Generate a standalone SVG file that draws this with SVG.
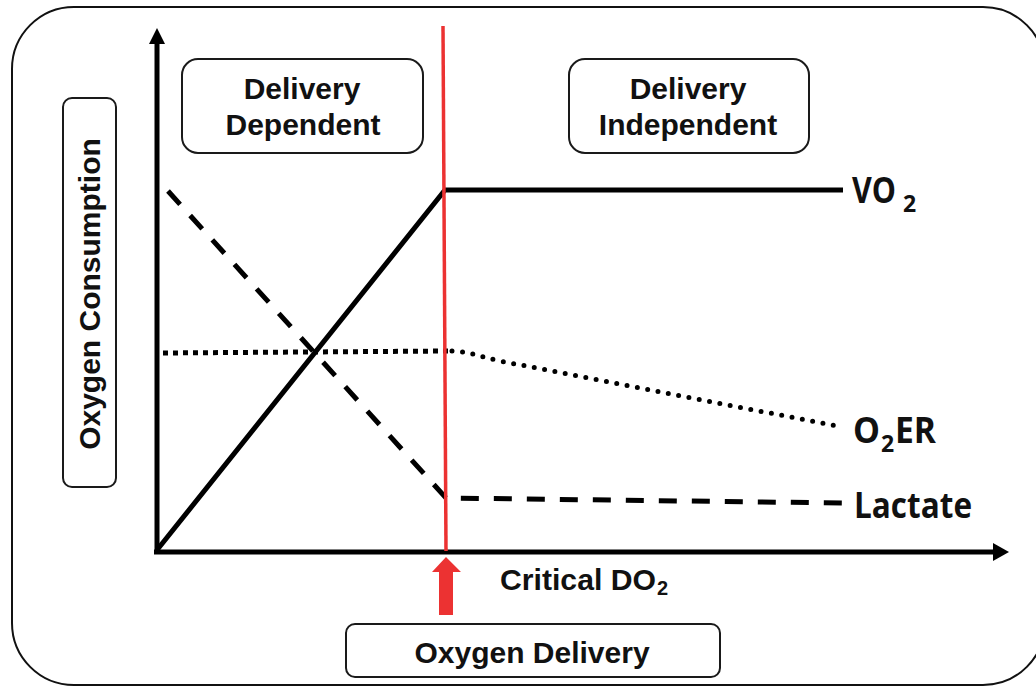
<svg xmlns="http://www.w3.org/2000/svg" width="1036" height="687" viewBox="0 0 1036 687">
<style>
.box{fill:#fff;stroke:#1a1a1a;stroke-width:2}
.lbl{font-family:"Liberation Sans",Arial,sans-serif;font-weight:bold;fill:#111}
.cal{font-family:"Open Sans","Liberation Sans",sans-serif;font-weight:bold;fill:#111}
.ax{stroke:#000;stroke-width:5;fill:none}
.curve{stroke:#000;fill:none}
</style>
<rect id="frame" x="12" y="7" width="1033" height="678" rx="62" ry="62" fill="#fff" stroke="#111" stroke-width="2"/>
<g id="connectors">
  <line class="ax" x1="157" y1="554" x2="157" y2="40"/>
  <polygon points="149,44 157,28 165,44" fill="#000"/>
  <line class="ax" x1="154" y1="552" x2="994" y2="552"/>
  <polygon points="993,543 1009,552 993,561" fill="#000"/>
  <path id="vo2-line" class="curve" stroke-width="5" stroke-linejoin="miter" d="M157,550 L445,190 L843,190"/>
  <path id="lactate-line" class="curve" stroke-width="5" stroke-dasharray="18,15" d="M168,191 L446,498 L842,503"/>
  <path id="o2er-line-a" class="curve" stroke-width="5" stroke-dasharray="5,5" d="M163,353 L448,351"/>
  <path id="o2er-line-b" class="curve" stroke-width="5" stroke-linecap="round" stroke-dasharray="0,10.5" d="M452,351 C470,352 482,357 500,361 L842,427"/>
  <line id="critical-line" x1="443" y1="26" x2="446" y2="551" stroke="#ec3232" stroke-width="3.5"/>
  <polygon id="critical-arrow" points="446,557 461,572 453,572 453,615 439,615 439,572 432,572" fill="#ec3232"/>
</g>
<g id="delivery-dependent">
  <rect class="box" x="182" y="59" width="241" height="94" rx="16"/>
  <text class="lbl" font-size="30" text-anchor="middle" x="302" y="99">Delivery</text>
  <text class="lbl" font-size="30" text-anchor="middle" x="303" y="135">Dependent</text>
</g>
<g id="delivery-independent">
  <rect class="box" x="569" y="59" width="240" height="94" rx="16"/>
  <text class="lbl" font-size="30" text-anchor="middle" x="688" y="99">Delivery</text>
  <text class="lbl" font-size="30" text-anchor="middle" x="688" y="135">Independent</text>
</g>
<g id="oxygen-consumption">
  <rect class="box" x="63" y="98" width="53" height="389" rx="9"/>
  <text class="lbl" font-size="30" text-anchor="middle" transform="translate(100,294) rotate(-90)" x="0" y="0">Oxygen Consumption</text>
</g>
<g id="oxygen-delivery">
  <rect class="box" x="346" y="624" width="374" height="53" rx="9"/>
  <text class="lbl" font-size="30" text-anchor="middle" x="532" y="663">Oxygen Delivery</text>
</g>
<g id="critical-do2">
  <text class="lbl" font-size="30" x="500" y="590"><tspan textLength="156" lengthAdjust="spacingAndGlyphs">Critical DO</tspan><tspan x="657" y="595" font-size="20">2</tspan></text>
</g>
<g id="vo2-label">
  <text class="cal" font-size="35" x="852" y="203"><tspan textLength="44" lengthAdjust="spacingAndGlyphs">VO</tspan><tspan x="903" y="212" font-size="23">2</tspan></text>
</g>
<g id="o2er-label">
  <text class="cal" font-size="35" x="853" y="443"><tspan textLength="27" lengthAdjust="spacingAndGlyphs">O</tspan><tspan x="881" y="452" font-size="23">2</tspan><tspan x="895" y="443" textLength="41" lengthAdjust="spacingAndGlyphs">ER</tspan></text>
</g>
<g id="lactate-label">
  <text class="cal" font-size="35" x="854" y="518" textLength="118" lengthAdjust="spacingAndGlyphs">Lactate</text>
</g>
</svg>
